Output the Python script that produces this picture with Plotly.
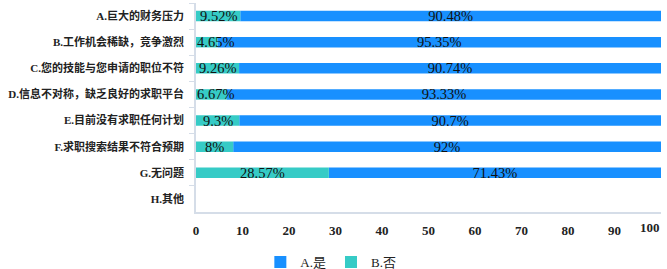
import plotly.graph_objects as go

categories = ["A.巨大的财务压力", "B.工作机会稀缺，竞争激烈", "C.您的技能与您申请的职位不符",
              "D.信息不对称，缺乏良好的求职平台", "E.目前没有求职任何计划",
              "F.求职搜索结果不符合预期", "G.无问题", "H.其他"]
yes_values = [90.48, 95.35, 90.74, 93.33, 90.7, 92, 71.43, None]
no_values = [9.52, 4.65, 9.26, 6.67, 9.3, 8, 28.57, None]
x_ticks = [0, 10, 20, 30, 40, 50, 60, 70, 80, 90, 100]

FONT = "Liberation Serif, Times New Roman, Noto Sans CJK SC, serif"
TICKFONT = dict(family=FONT, size=13, color="#222", weight="bold")
label_fmt = lambda v: [("" if x is None else f"{x:g}%") for x in v]
# last tick label is drawn right-aligned at the axis end (as in the reference)
tick_text = [str(t) for t in x_ticks[:-1]] + [""]

fig = go.Figure()
fig.add_trace(go.Bar(
    y=categories, x=yes_values, base=no_values, orientation="h", name="A.是",
    marker=dict(color="#1890FF", line=dict(width=0)),
    text=label_fmt(yes_values), textposition="inside", insidetextanchor="middle",
    textfont=dict(family=FONT, size=14.5, color="#111"),
    hoverinfo="skip",
))
fig.add_trace(go.Bar(
    y=categories, x=no_values, orientation="h", name="B.否",
    marker=dict(color="#36CBC6", line=dict(width=0)),
    hoverinfo="skip",
))

# B.否 labels: centred in the segment, or starting at the axis when too narrow
for cat, v, t in zip(categories, no_values, label_fmt(no_values)):
    if v is None:
        continue
    small = v < 7.5
    fig.add_annotation(
        x=0 if small else v / 2, y=cat, xref="x", yref="y", text=t, showarrow=False,
        xanchor="left" if small else "center", yanchor="middle", borderpad=0,
        font=dict(family=FONT, size=14.5, color="#111"),
    )

fig.add_annotation(
    x=x_ticks[-1], y=0, xref="x", yref="paper", text=str(x_ticks[-1]), showarrow=False,
    xanchor="right", yanchor="top", yshift=-7, borderpad=0, font=TICKFONT,
)

fig.update_layout(
    barmode="overlay",
    bargap=0.6,
    width=667, height=269,
    margin=dict(l=196, r=6, t=3, b=57, autoexpand=False),
    paper_bgcolor="white", plot_bgcolor="white",
    font=dict(family=FONT, size=11, color="#222"),
    uniformtext=dict(minsize=14.5, mode="show"),
    showlegend=True,
    legend=dict(orientation="h", x=0.29, xanchor="center", y=-0.24, yanchor="middle",
                traceorder="normal", font=dict(family=FONT, size=13, color="#222"),
                itemwidth=30, tracegroupgap=0),
)
fig.update_xaxes(
    range=[0, 100], tickvals=x_ticks, ticktext=tick_text, showgrid=False, zeroline=False,
    showline=True, linecolor="#D5DDE8", linewidth=1.5, ticks="", automargin=False,
    ticklabelstandoff=6, tickfont=TICKFONT,
)
fig.update_yaxes(
    autorange="reversed", showgrid=False, showline=True, linecolor="#D5DDE8",
    linewidth=1.5, ticks="outside", tickson="boundaries", ticklen=5, tickcolor="#D5DDE8",
    automargin=False, ticklabelstandoff=8,
    tickfont=dict(family=FONT, size=11, color="#222", weight="bold"),
)

fig.write_html("out.html", config={"displayModeBar": False},
               post_script="document.body.style.margin='0';document.body.style.overflow='hidden';")
